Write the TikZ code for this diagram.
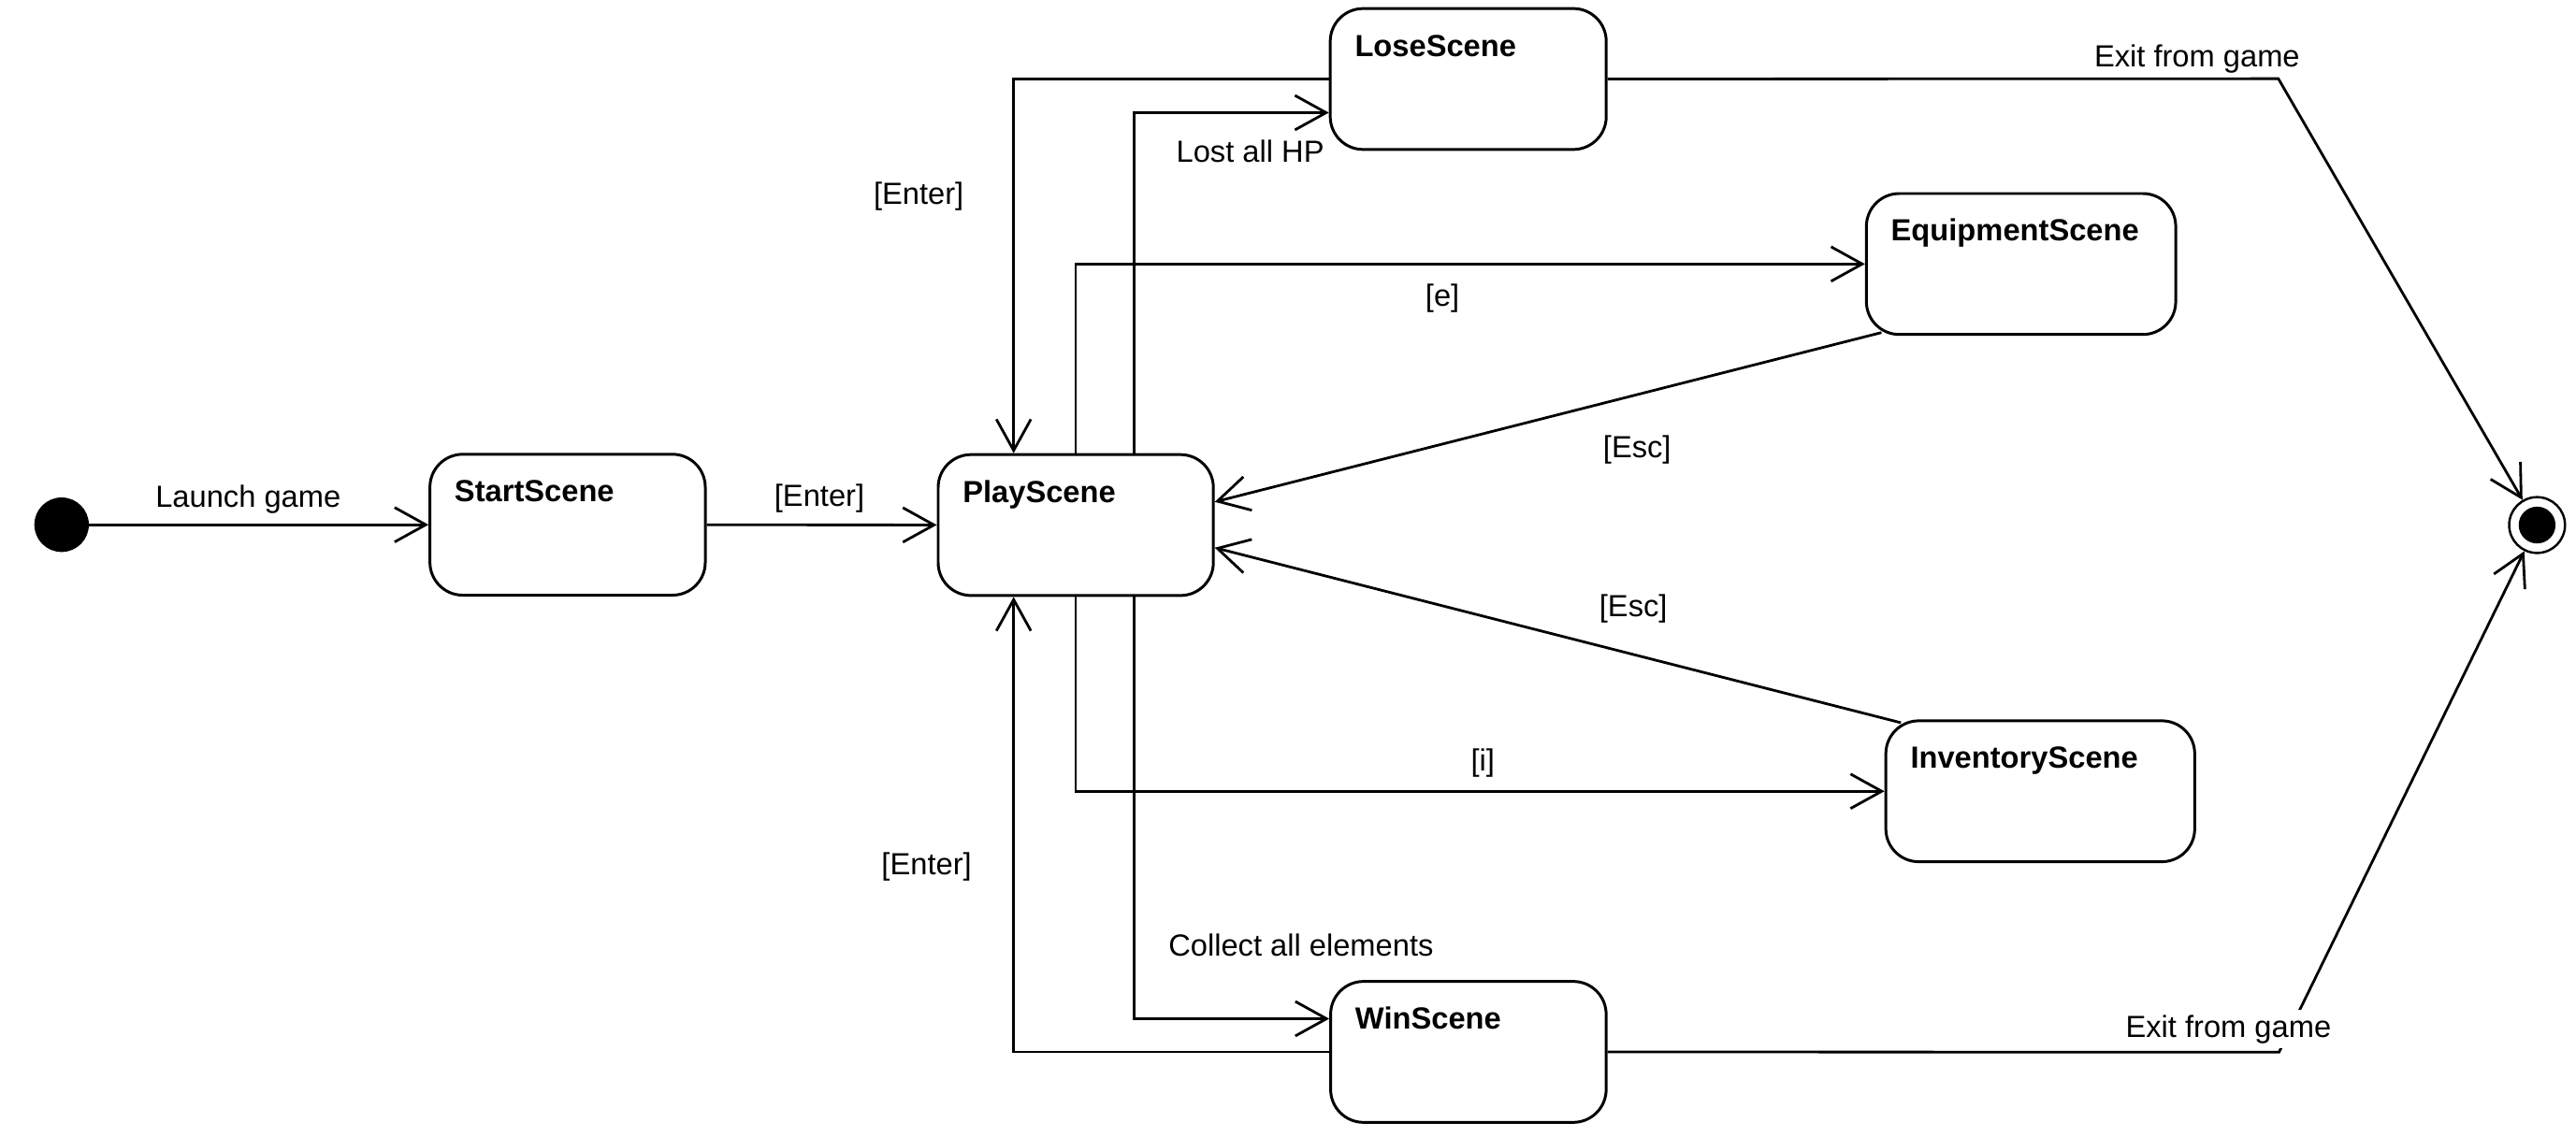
\documentclass[tikz,border=0pt]{standalone}
\usepackage{fontspec}
\setmainfont{Liberation Sans}
\usetikzlibrary{arrows.meta,calc}
\begin{document}
\begin{tikzpicture}[x=1pt,y=-1pt,
  state/.style={draw, line width=1.7pt, rounded corners=20pt, inner xsep=15pt, inner ysep=0pt,
    text height=29pt, text depth=56.8pt, align=left,
    font=\fontsize{18.6}{22}\selectfont\bfseries},
  arr/.style={line width=1.6pt, -{Straight Barb[length=19pt,width=21pt]}},
  lbl/.style={font=\fontsize{18.6}{22}\selectfont, anchor=base, inner sep=1pt},
]
\fill[white] (0,0) rectangle (1568,691.8);

% states
\node[state, text width=137.6pt] (start) at (345.5,319.5) {StartScene};
\node[state, text width=137.5pt] (play)  at (654.8,319.7) {PlayScene};
\node[state, text width=138pt]   (lose)  at (893.7,48.1)  {LoseScene};
\node[state, text width=137.7pt] (win)   at (893.8,640.5) {WinScene};
\node[state, text width=158.3pt] (equip) at (1230.2,160.75) {EquipmentScene};
\node[state, text width=158pt]   (inv)   at (1241.9,481.8) {InventoryScene};

% pseudo states
\node[circle, fill, inner sep=0pt, minimum size=33.2pt] (init) at (37.5,319.5) {};
\node[circle, draw, line width=1.4pt, inner sep=0pt, minimum size=34pt] (final) at (1544.3,319.7) {};
\node[circle, fill, inner sep=0pt, minimum size=22.4pt] (finaldot) at (final.center) {};

\coordinate (bendA) at (1386.8,47.9);
\coordinate (bendB) at (1387.2,640.7);

% transitions
\draw[arr] (init) -- (start);
\draw[arr] (start) -- (play);
\draw[arr] ($(play.north)+(35.7,0)$) |- ($(lose.west)+(0,20.5)$);
\draw[arr] (lose.west) -| ($(play.north)+(-37.8,0)$);
\draw[arr] (play.north) |- (equip.west);
\draw[arr] ($(equip.south west)+(10,-2)$) -- ($(play.east)+(0,-14.1)$);
\draw[arr] ($(inv.north west)+(10,2)$) -- ($(play.east)+(0,13.8)$);
\draw[arr] (play.south) |- (inv.west);
\draw[arr] ($(play.south)+(35.7,0)$) |- ($(win.west)+(0,-20.2)$);
\draw[arr] (win.west) -| ($(play.south)+(-37.8,0)$);
\draw[arr] (lose.east) -- (bendA) -- (final);
\draw[arr] (win.east) -- (bendB) -- (final);

% labels
\node[lbl] (l1)  at (151.05,309.1) {Launch game};
\node[lbl] (l2)  at (498.75,308.4) {[Enter]};
\node[lbl] (l3)  at (761,98.8) {Lost all HP};
\node[lbl] (l4)  at (559.2,124.5) {[Enter]};
\node[lbl] (l5)  at (878,186.5) {[e]};
\node[lbl] (l6)  at (996.5,278.9) {[Esc]};
\node[lbl] (l7)  at (994.2,375.6) {[Esc]};
\node[lbl] (l8)  at (902.6,469.3) {[i]};
\node[lbl] (l9)  at (791.9,582.1) {Collect all elements};
\node[lbl] (l10) at (564,532.5) {[Enter]};
\node[lbl] (l11) at (1337.3,40.7) {Exit from game};
\node[lbl, fill=white, inner sep=3pt] (l12) at (1356.4,631.6) {Exit from game};
\end{tikzpicture}
\end{document}
